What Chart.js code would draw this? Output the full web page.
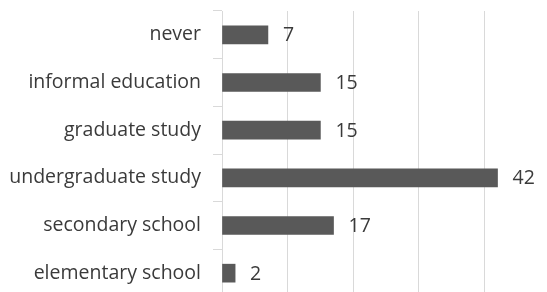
<!DOCTYPE html>
<html>
<head>
<meta charset="utf-8">
<script src="https://cdn.jsdelivr.net/npm/chart.js@4"></script>
<style>
  html, body { margin: 0; padding: 0; background: #fff; overflow: hidden; }
  #wrap { width: 550px; height: 297px; position: relative; }
</style>
</head>
<body>
<div id="wrap"><canvas id="chart"></canvas></div>
<script>
const categories = ['never', 'informal education', 'graduate study', 'undergraduate study', 'secondary school', 'elementary school'];
const counts = [7, 15, 15, 42, 17, 2];
const xTicks = [0, 10, 20, 30, 40, 50];

const textColor = '#3a3a3a';
const font = { family: 'Open Sans', size: 19.5 };

// value labels to the right of every bar
const barLabels = {
    id: 'barLabels',
    afterDatasetsDraw(chart) {
        const ctx = chart.ctx;
        ctx.save();
        ctx.font = font.size + 'px "' + font.family + '"';
        ctx.fillStyle = textColor;
        ctx.textAlign = 'left';
        ctx.textBaseline = 'middle';
        chart.getDatasetMeta(0).data.forEach((bar, i) => {
            ctx.fillText(String(counts[i]), bar.x + 15, bar.y + 1);
        });
        ctx.restore();
    }
};

function noPad(s) {
    s.paddingTop = 0;
    s.paddingBottom = 0;
    s.paddingLeft = 0;
    s.paddingRight = 0;
}

new Chart(document.getElementById('chart'), {
    type: 'bar',
    data: {
        labels: categories,
        datasets: [{
            data: counts,
            backgroundColor: '#595959',
            barThickness: 18
        }]
    },
    options: {
        indexAxis: 'y',
        responsive: true,
        maintainAspectRatio: false,
        animation: false,
        layout: { padding: { top: 11, right: 0, bottom: 0, left: 0 } },
        plugins: {
            legend: { display: false },
            tooltip: { enabled: false }
        },
        scales: {
            x: {
                min: xTicks[0],
                max: xTicks[xTicks.length - 1],
                afterBuildTicks: (s) => { s.ticks = xTicks.map(v => ({ value: v })); },
                afterFit: (s) => { s.height = 0; noPad(s); },
                ticks: { display: false },
                border: { display: false },
                grid: { color: '#d9d9d9', lineWidth: 1, drawTicks: false }
            },
            y: {
                afterFit: (s) => { s.width = 222; noPad(s); },
                ticks: { color: textColor, font: font, padding: 12 },
                border: { display: true, color: '#d9d9d9', width: 1 },
                grid: { drawOnChartArea: false, drawTicks: true, tickLength: 9, color: '#d9d9d9' }
            }
        }
    },
    plugins: [barLabels]
});
</script>
</body>
</html>
